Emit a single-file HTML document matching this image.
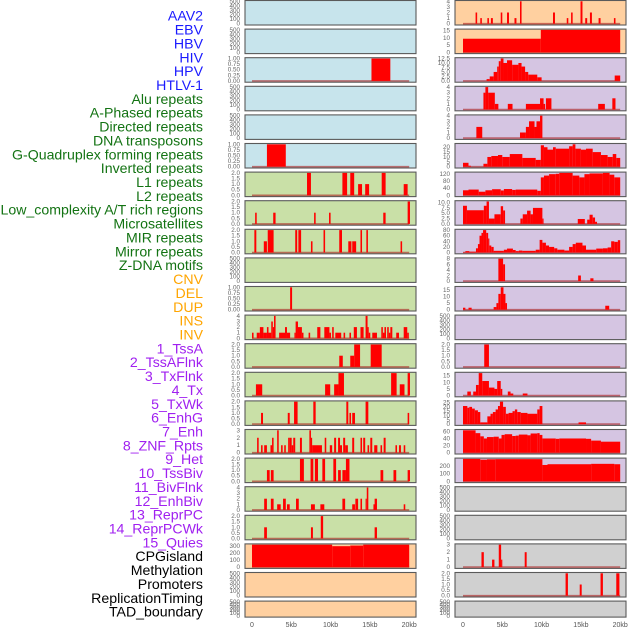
<!DOCTYPE html>
<html><head><meta charset="utf-8"><style>
html,body{margin:0;padding:0;background:#fff;}
svg{display:block;font-family:"Liberation Sans",sans-serif;}
</style></head><body>
<svg id="chart" width="630" height="630" viewBox="0 0 630 630" xmlns="http://www.w3.org/2000/svg"></svg>
<script>
const trackNames = ["AAV2","EBV","HBV","HIV","HPV","HTLV-1","Alu repeats","A-Phased repeats","Directed repeats","DNA transposons","G-Quadruplex forming repeats","Inverted repeats","L1 repeats","L2 repeats","Low_complexity A/T rich regions","Microsatellites","MIR repeats","Mirror repeats","Z-DNA motifs","CNV","DEL","DUP","INS","INV","1_TssA","2_TssAFlnk","3_TxFlnk","4_Tx","5_TxWk","6_EnhG","7_Enh","8_ZNF_Rpts","9_Het","10_TssBiv","11_BivFlnk","12_EnhBiv","13_ReprPC","14_ReprPCWk","15_Quies","CPGisland","Methylation","Promoters","ReplicationTiming","TAD_boundary"];
const trackGroup = ["virus","virus","virus","virus","virus","virus","repeat","repeat","repeat","repeat","repeat","repeat","repeat","repeat","repeat","repeat","repeat","repeat","repeat","sv","sv","sv","sv","sv","hmm","hmm","hmm","hmm","hmm","hmm","hmm","hmm","hmm","hmm","hmm","hmm","hmm","hmm","hmm","other","other","other","other","other"];
const xTicks = [0,5,10,15,20];
const xTickLabels = ["0","5kb","10kb","15kb","20kb"];
const T_EMPTY=[0,100,200,300,400,500], T_ONE=[0,0.25,0.5,0.75,1], T_TWO=[0,0.5,1,1.5,2];
const yTicks = [T_EMPTY,T_EMPTY,T_ONE,T_EMPTY,T_EMPTY,T_ONE,T_TWO,T_TWO,T_TWO,T_EMPTY,T_ONE,[0,1,2,3,4],T_TWO,T_TWO,T_TWO,[0,1,2,3],T_TWO,[0,1,2,3,4],T_TWO,[0,100,200,300],T_EMPTY,T_EMPTY,
 [0,1,2,3,4],[0,5,10,15],[0,2.5,5,7.5,10,12.5],[0,1,2,3,4],[0,1,2,3,4],[0,5,10,15,20],[0,40,80,120],[0,2.5,5,7.5,10],[0,20,40,60,80],[0,2,4,6,8],[0,5,10,15],T_EMPTY,T_TWO,[0,5,10,15],[0,5,10,15,20,25],[0,20,40,60],[0,100,200],T_EMPTY,T_EMPTY,[0,1,2,3],T_TWO,T_EMPTY];
const yTickDigits = [0,0,2,0,0,2,1,1,1,0,2,0,1,1,1,0,1,0,1,0,0,0, 0,0,1,0,0,0,0,1,0,0,0,0,1,0,0,0,0,0,0,0,1,0];
// segments: [startKb, endKb, value]
const segHBV=[[15.2,17.6,1]];
const segHTLV=[[1.9,4.3,1]];
const segAlu=[[7.0,7.5,2],[11.5,12.1,2],[12.5,13.0,2],[13.5,14.0,1],[14.4,14.9,1],[16.5,17.0,2],[19.3,19.8,1]];
const segAPhased=[[0.4,0.6,1],[2.7,3.0,1],[7.9,8.1,1],[9.8,10.0,1],[16.7,17.0,1],[19.8,20.1,2]];
const segDirected=[[0.3,0.55,2],[1.5,1.9,1],[2.0,2.75,2],[5.5,5.75,2],[5.9,6.25,2],[7.5,7.7,1],[9.1,9.3,2],[11.1,11.45,2],[12.25,12.65,1],[12.75,13.25,1],[13.8,14.0,2],[14.55,14.75,2],[18.9,19.1,1]];
const segGQuad=[[4.85,5.1,1]];
const segInverted=[[0,0.2,1],[0.6,1.0,1],[1.0,1.45,2],[1.45,1.9,1],[1.9,2.1,2],[2.1,2.45,1],[2.45,2.65,3],[2.65,2.8,2],[2.8,3.0,4],[3.45,4.2,1],[4.2,4.45,2],[4.45,4.85,1],[5.4,5.55,1],[5.55,5.85,3],[5.85,6.35,2],[6.35,6.55,1],[7.2,7.4,1],[8.3,8.7,2],[9.2,9.85,2],[9.85,10.05,1],[10.2,10.4,2],[10.6,11.35,1],[11.65,11.85,1],[12.4,12.6,1],[12.95,13.35,2],[13.8,14.2,2],[14.45,14.7,4],[14.7,14.85,2],[14.85,15.05,1],[15.3,15.9,1],[16.45,16.65,2],[16.65,16.85,1],[16.85,17.05,2],[17.2,17.4,2],[17.4,17.6,1],[17.6,17.85,2],[18.35,18.7,1],[19.3,19.75,2],[19.75,19.95,1]];
const segL1=[[11.1,11.55,1],[12.5,13.0,1],[13.0,13.75,2],[15.1,16.5,2]];
const segL2=[[0.5,1.3,1],[9.3,9.95,1],[10.45,11.0,1],[11.0,11.7,2],[17.7,18.4,2],[18.8,19.4,1],[19.8,20.1,2]];
const segLowCx=[[1.15,1.4,1],[4.55,4.8,1],[5.35,5.8,2],[7.8,8.1,2],[12.0,12.25,2],[12.4,12.6,1],[12.75,13.1,1],[14.45,14.8,2],[19.8,20.0,1]];
const segMicro=[[0.65,0.85,2],[1.15,1.35,1],[1.55,1.9,1],[2.35,2.55,1],[2.55,2.75,2],[3.2,3.4,3],[3.7,3.9,1],[4.1,4.3,1],[4.6,4.8,2],[4.8,5.05,2],[5.05,5.25,1],[5.25,5.5,2],[6.1,6.35,2],[7.3,7.5,3],[7.5,7.65,2],[7.65,8.9,1],[9.25,9.45,2],[9.9,10.2,1],[10.45,10.7,2],[10.95,11.2,2],[11.2,11.45,1],[11.6,11.85,2],[11.85,12.2,1],[12.75,13.0,2],[13.8,14.0,2],[14.15,14.4,2],[14.7,14.9,1],[15.05,15.3,2],[15.55,15.95,1],[16.35,16.55,1],[16.75,17.0,2],[18.25,18.45,1],[18.7,18.95,1],[19.3,19.5,1]];
const segMIR=[[1.9,2.25,1],[2.4,2.75,1],[6.1,6.6,2],[7.45,7.8,2],[8.0,8.4,2],[8.95,9.3,2],[10.35,10.7,2],[10.95,11.3,1],[11.5,11.95,1],[11.95,12.4,2],[16.35,16.7,1],[18.0,18.35,1],[19.8,20.1,1]];
const segMirror=[[1.55,1.9,2],[2.4,2.75,2],[3.2,3.65,1],[3.95,4.3,2],[4.45,4.8,1],[5.6,5.95,2],[7.5,8.0,1],[8.7,9.2,1],[11.5,11.85,2],[12.75,13.1,1],[13.15,13.5,2],[13.8,14.0,2],[14.45,14.6,2],[14.6,14.8,4],[15.45,15.7,1],[15.6,15.9,2],[19.3,19.5,1]];
const segZDNA=[[1.55,1.9,1],[7.5,7.75,1],[8.75,9.05,2],[15.6,15.9,1]];
const segCNV=[[0,10.2,317],[10.2,12.5,296],[12.5,14.15,305],[14.15,20,317]];
const segINS=[[1.6,1.8,2],[2.2,2.4,1],[3.1,3.3,1],[3.55,3.8,1],[4.8,5.0,2],[5.6,5.85,2],[6.55,6.8,1],[7.25,7.45,4],[11.45,11.7,2],[13.2,13.4,1],[13.75,13.95,2],[14.95,15.2,4],[15.55,15.8,1],[16.15,16.4,2],[17.25,17.5,1],[19.2,19.4,1]];
const segINV=[[0,9.9,9.4],[9.9,20,15.5]];
const segTssA=[[3.0,3.4,1],[3.4,3.9,2.5],[3.9,4.35,5],[4.35,4.55,8],[4.55,4.8,11],[4.8,5.15,12.5],[5.15,5.6,10],[5.6,6.25,11.5],[6.25,7.05,9],[7.05,7.45,10],[7.45,7.9,8],[7.9,8.3,5],[8.3,9.45,3.5],[9.45,10.0,2],[19.3,20.0,3]];
const segTssAFlnk=[[2.6,2.85,3],[2.85,3.2,4],[3.2,4.05,3],[4.05,4.5,1],[5.7,6.3,1],[8.0,9.8,1],[9.8,10.25,2],[10.25,10.45,1],[10.55,11.25,2],[17.2,18.05,1],[19.0,19.4,2]];
const segTxFlnk=[[1.7,2.45,2],[7.25,8.0,1],[8.0,8.4,2],[8.4,9.1,3],[9.1,9.35,2],[9.35,9.8,3],[9.8,10.1,4]];
const segTx=[[0,0.7,4],[0.7,1.0,1],[2.6,3.1,3],[3.1,3.6,10],[3.6,4.45,11],[4.45,5.0,12],[5.0,5.95,10],[5.95,7.55,13],[7.55,9.25,9],[9.25,9.9,7],[9.9,10.3,22],[10.3,10.75,20],[10.75,11.45,17.5],[11.45,11.8,20],[11.8,13.5,18.5],[13.5,13.95,21],[13.95,14.3,23],[14.3,15.0,18.5],[15.0,15.65,17.5],[15.65,16.5,18.5],[16.5,17.55,15],[17.55,18.4,12],[18.4,19.05,10],[19.05,19.5,13],[19.5,20.0,9]];
const segTxWk=[[0,0.7,28],[0.7,2.0,32],[2.0,2.85,20],[2.85,3.7,28],[3.7,4.8,34],[4.8,5.2,27],[5.2,6.25,35],[6.25,6.7,30],[6.7,9.45,32],[9.45,9.9,25],[9.9,10.3,100],[10.3,10.95,110],[10.95,11.8,118],[11.8,12.25,120],[12.25,13.95,125],[13.95,14.8,110],[14.8,15.45,100],[15.45,16.1,118],[16.1,17.8,122],[17.8,18.65,125],[18.65,19.25,115],[19.25,20.0,100]];
const segEnhG=[[0,0.5,8.5],[0.5,2.65,6.4],[2.65,3.0,8.5],[3.0,3.3,10.5],[3.3,4.0,2.5],[4.0,4.8,4.5],[4.8,5.1,8.3],[5.1,5.35,6.3],[7.3,7.6,2.5],[7.6,8.15,4.5],[8.15,8.6,6.2],[8.6,8.9,4.5],[8.9,10.1,7.5],[10.1,10.25,2.5],[14.6,15.5,2.3],[15.8,16.1,2],[16.1,16.5,4.3],[16.5,16.8,3],[16.8,17.05,1]];
const segEnh=[[0,0.3,1],[0.3,0.8,5],[0.8,1.65,3],[1.65,1.9,15],[1.9,2.1,30],[2.1,2.35,60],[2.35,2.55,70],[2.55,2.95,80],[2.95,3.2,70],[3.2,3.35,50],[3.35,3.6,25],[3.6,3.9,20],[3.9,5.2,6],[5.2,5.6,10],[5.6,6.35,14],[6.35,6.7,9],[6.7,7.1,5],[7.1,7.55,7],[7.55,9.25,6],[9.25,9.75,10],[9.75,10.1,45],[10.1,10.55,35],[10.55,10.95,25],[10.95,11.6,20],[11.6,12.0,15],[12.0,12.9,10],[12.9,13.5,7],[13.5,13.95,20],[13.95,14.35,30],[14.35,15.2,35],[15.2,15.65,25],[15.65,16.95,10],[16.95,17.8,14],[17.8,18.4,15],[18.4,18.85,18],[18.85,19.25,40],[19.25,19.7,38],[19.7,20.0,44]];
const segZNF=[[4.5,5.1,8],[5.1,5.35,6],[14.65,15.0,2],[16.2,16.6,1]];
const segHet=[[0,0.3,1.5],[0.7,1.1,1.5],[3.9,4.25,2],[4.25,4.5,5],[4.5,4.8,12],[4.8,5.15,17],[5.15,5.4,12],[5.4,5.6,5],[18.1,18.6,3]];
const segBivFlnk=[[2.7,3.3,2]];
const segEnhBiv=[[0.55,1.0,3],[1.3,1.65,3],[1.65,2.0,8],[2.0,2.45,17],[2.45,3.3,11],[3.3,4.0,6],[4.0,4.35,5],[4.35,4.8,11],[4.8,5.0,5],[5.7,6.05,3],[6.05,6.4,1.5],[7.6,8.2,1.5]];
const segReprPC=[[0,0.55,21],[0.55,0.8,19],[0.8,1.15,20],[1.15,1.5,18],[1.5,1.9,16],[1.9,2.2,14],[2.2,3.1,2],[3.1,3.5,9],[3.5,3.8,12],[3.8,4.15,14],[4.15,4.45,17],[4.45,4.7,21],[4.7,5.1,26],[5.1,5.45,20],[5.45,5.8,12],[5.8,6.3,13],[6.3,6.6,15],[6.6,6.9,17],[6.9,7.35,14],[7.35,8.2,13],[8.2,9.45,12],[9.45,9.75,17],[9.75,10.1,21],[14.7,15.65,2]];
const segReprPCWk=[[0,1.6,63],[1.6,2.2,55],[2.2,2.65,46],[2.65,3.05,40],[3.05,3.9,44],[3.9,4.55,45],[4.55,4.9,40],[4.9,5.3,50],[5.3,6.25,52],[6.25,6.7,47],[6.7,7.1,48],[7.1,8.2,51],[8.2,8.6,49],[8.6,9.45,54],[9.45,9.75,55],[9.75,10.1,50],[10.1,11.8,40],[11.8,12.25,39],[12.25,15.65,40],[15.65,16.3,39],[16.3,17.55,34],[17.55,20.0,31]];
const segQuies=[[0,2.2,295],[2.2,3.05,285],[3.05,4.1,290],[4.1,10.1,292],[10.1,10.75,215],[10.75,16.3,225],[16.3,19.25,230],[19.25,20.0,225]];
const segPromoters=[[2.35,2.65,2],[3.7,4.0,1],[4.55,4.85,3],[4.85,5.0,1],[7.85,8.1,2]];
const segRepTiming=[[13.05,13.35,2],[14.85,15.1,1],[17.5,17.8,2],[19.5,19.9,2]];
const trackSegments=[[],[],segHBV,[],[],segHTLV,segAlu,segAPhased,segDirected,[],segGQuad,segInverted,segL1,segL2,segLowCx,segMicro,segMIR,segMirror,segZDNA,segCNV,[],[],
 segINS,segINV,segTssA,segTssAFlnk,segTxFlnk,segTx,segTxWk,segEnhG,segEnh,segZNF,segHet,[],segBivFlnk,segEnhBiv,segReprPC,segReprPCWk,segQuies,[],[],segPromoters,segRepTiming,[]];

const NS="http://www.w3.org/2000/svg";
const svg=document.getElementById('chart');
function mk(tag,attrs,parent){const e=document.createElementNS(NS,tag);for(const k in attrs)e.setAttribute(k,attrs[k]);(parent||svg).appendChild(e);return e;}
const labelColor={virus:"#1a1aff",repeat:"#137313",sv:"#ffa500",hmm:"#a020f0",other:"#000"};
const panelFill={virus:"#c7e4ec",repeat:"#c9e0a7",sv:"#ffd0a0",hmm:"#d5c5e2",other:"#d0d0d0"};
trackNames.forEach((n,i)=>{
  const t=mk('text',{x:203,y:(20.7+i*13.86).toFixed(1),'text-anchor':'end','font-size':'14.15',fill:labelColor[trackGroup[i]]});
  t.textContent=n;
  
  
});
const colX=[245,455], panelW=171, pitch=28.6, zeroX=[252,463], pxPerKb=7.86;
function xScale(col,kb){return zeroX[col]+kb*pxPerKb;}
trackNames.forEach((n,i)=>{
  const col=i<22?0:1, row=i%22;
  const top=row*pitch+0.5, h=row===21?16:24.5;
  const g=mk('g',{});
  
  
  mk('rect',{x:colX[col],y:top,width:panelW,height:h,fill:panelFill[trackGroup[i]],stroke:'#5a5a5a','stroke-width':1.1},g);
  const ticks=yTicks[i], segs=trackSegments[i];
  let ymax=ticks[ticks.length-1];
  segs.forEach(s=>{if(s[2]>ymax)ymax=s[2];});
  const y0=top+h-1.3, y1=top+0.8;
  const yScale=v=>y0-(v/ymax)*(y0-y1);
  ticks.forEach(tv=>{
    const t=mk('text',{x:colX[col]-5,y:(yScale(tv)+2).toFixed(1),'text-anchor':'end','font-size':'6.3',fill:'#666'},g);
    t.textContent=tv.toFixed(yTickDigits[i]);
    
    
  });
  if(segs.length){
    const bl=mk('line',{x1:xScale(col,0),x2:xScale(col,20),y1:y0,y2:y0,stroke:'rgba(170,30,30,0.6)','stroke-width':1.6},g);
    
    
  }
  segs.forEach(s=>{
    const x=xScale(col,s[0]), w=Math.max(1,xScale(col,s[1])-x), yt=yScale(s[2]);
    const r=mk('rect',{x:x.toFixed(2),y:yt.toFixed(2),width:w.toFixed(2),height:(y0-yt).toFixed(2),fill:'#ff0000'},g);
    
    
  });
});
[0,1].forEach(col=>{
  xTicks.forEach((kb,j)=>{
    const t=mk('text',{x:xScale(col,kb).toFixed(1),y:627,'text-anchor':'middle','font-size':'7','fill':'#555'});
    t.textContent=xTickLabels[j];
    
    
  });
});
</script>
</body></html>
